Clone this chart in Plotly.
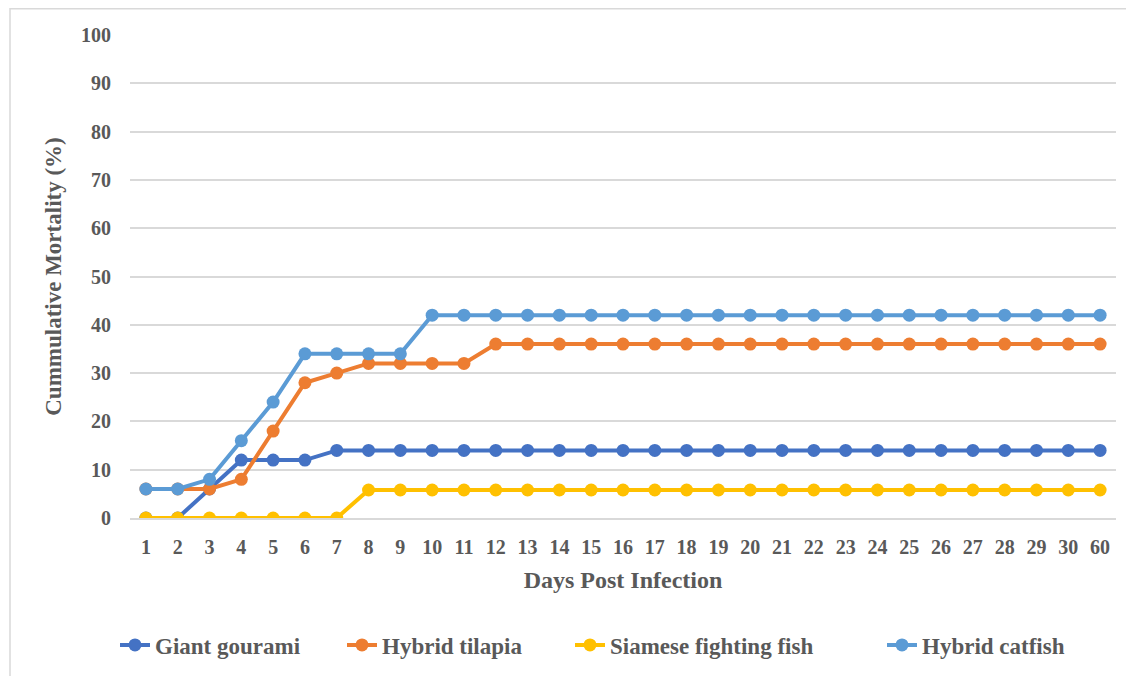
import plotly.graph_objects as go

days = ["1","2","3","4","5","6","7","8","9","10","11","12","13","14","15","16","17","18","19","20",
        "21","22","23","24","25","26","27","28","29","30","60"]

giant_gourami = [0,0,6,12,12,12] + [14]*25
hybrid_tilapia = [6,6,6,8,18,28,30,32,32,32,32] + [36]*20
siamese_fighting_fish = [0,0,0,0,0,0,0] + [5.8]*24
hybrid_catfish = [6,6,8,16,24,34,34,34,34] + [42]*22

series = [
    ("Giant gourami", giant_gourami, "#4472C4"),
    ("Hybrid tilapia", hybrid_tilapia, "#ED7D31"),
    ("Siamese fighting fish", siamese_fighting_fish, "#FFC000"),
    ("Hybrid catfish", hybrid_catfish, "#5B9BD5"),
]
legend_left_px = [107, 334, 562, 874]

FONT = "Liberation Serif"
TXT = "#595959"

# page body has an 8px default margin; compensate
L, T, PW, PH = 122, 27, 986, 483

fig = go.Figure()
legends = {}
for i, (name, vals, col) in enumerate(series):
    lid = "legend" if i == 0 else f"legend{i+1}"
    fig.add_trace(go.Scatter(
        x=days, y=vals, name=name, mode="lines+markers",
        line=dict(color=col, width=4),
        marker=dict(color=col, size=13),
        legend=lid,
    ))
    legends[lid] = dict(orientation="h", x=(legend_left_px[i] - L) / PW, xanchor="left",
                        y=(T + PH - 637) / PH, yanchor="middle",
                        bgcolor="rgba(0,0,0,0)",
                        font=dict(family=FONT, size=23, color=TXT, weight="bold"))

fig.update_layout(
    width=1134, height=676,
    margin=dict(l=L, r=1134 - L - PW, t=T, b=676 - T - PH, autoexpand=False),
    paper_bgcolor="white", plot_bgcolor="white",
    font=dict(family=FONT, color=TXT, size=18),
    showlegend=True,
    xaxis=dict(
        type="category", range=[-0.5, 30.5], showgrid=False, showline=True,
        linecolor="#d9d9d9", linewidth=1.5,
        ticks="", ticklabelstandoff=10,
        tickfont=dict(family=FONT, size=20, color=TXT, weight="bold"),
        title=dict(text="Days Post Infection", font=dict(family=FONT, size=24, color=TXT, weight="bold"), standoff=14),
    ),
    yaxis=dict(
        range=[0, 100], dtick=10, showgrid=True, gridcolor="#d9d9d9", gridwidth=1.5,
        zeroline=False, showline=False, ticks="", ticklabelstandoff=18,
        tickfont=dict(family=FONT, size=20, color=TXT, weight="bold"),
        title=dict(text="Cummulative Mortality (%)", font=dict(family=FONT, size=23, color=TXT, weight="bold"), standoff=12),
    ),
    shapes=[dict(type="rect", xref="paper", yref="paper",
                 x0=(2 - L) / PW, x1=(1200 - L) / PW,
                 y0=(T + PH - 700) / PH, y1=(T + PH - 0.75) / PH,
                 line=dict(color="#d9d9d9", width=1.5), fillcolor="rgba(0,0,0,0)", layer="below")],
    **legends,
)

fig.write_html("out.html")
